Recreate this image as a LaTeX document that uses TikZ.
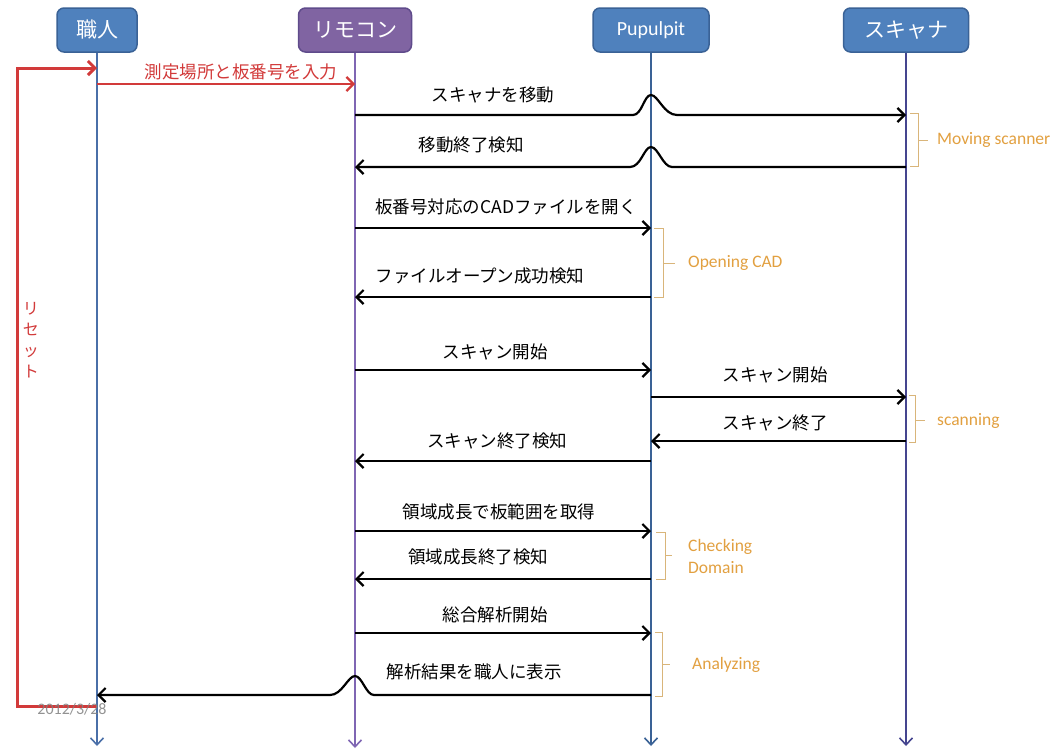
\documentclass[tikz,border=0pt]{standalone}
\usepackage{fontspec}
\newfontfamily\jp{Noto Sans CJK JP}
\newfontfamily\lat{Carlito}
\usetikzlibrary{arrows.meta}
\definecolor{boxblue}{HTML}{4F81BD}
\definecolor{boxblueline}{HTML}{3A6296}
\definecolor{boxpurple}{HTML}{8064A2}
\definecolor{boxpurpleline}{HTML}{5F4B8B}
\definecolor{lineblue}{HTML}{4A6FA8}
\definecolor{linepurple}{HTML}{7F66B3}
\definecolor{linescan}{HTML}{45458F}
\definecolor{resetred}{HTML}{D23A3A}
\definecolor{phase}{HTML}{E2A040}
\definecolor{phasebar}{HTML}{D9B57A}
\begin{document}
\begin{tikzpicture}[x=1pt,y=-1pt,
  actor/.style={rounded corners=7pt, draw=boxblueline, fill=boxblue, line width=1.5pt,
    text=white, minimum height=44pt, inner sep=2pt,
    font=\jp\fontsize{21}{24}\selectfont},
  lifeline/.style={line width=1.4pt, -{Straight Barb[length=7pt,width=13pt,line width=1.6pt]}},
  msg/.style={line width=2.2pt, black, -{Straight Barb[length=7pt,width=14pt]}},
  msglabel/.style={font=\jp\fontsize{17.5}{20}\selectfont, inner sep=1pt},
  reset/.style={line width=3pt, resetred, -{Straight Barb[length=7pt,width=14pt]}},
  bracket/.style={draw=phasebar, line width=1pt},
  phaselabel/.style={text=phase, anchor=west, align=left, inner sep=0pt,
    font=\lat\fontsize{17.5}{22}\selectfont}
]
\fill[white] (0,0) rectangle (1057,753);
\useasboundingbox (0,0) rectangle (1057,753);

% participants
\node[actor, minimum width=80pt] (shokunin) at (97,30) {職人};
\node[actor, fill=boxpurple, draw=boxpurpleline, minimum width=113pt] (remocon) at (355,30) {リモコン};
\node[actor, minimum width=116pt, font=\lat\fontsize{20}{22}\selectfont] (pupulpit) at (651,30) {Pupulpit};
\node[actor, minimum width=125pt] (scanner) at (906,30) {スキャナ};

% lifelines
\coordinate (shokuninEnd) at (97,746);
\coordinate (remoconEnd) at (355,748);
\coordinate (pupulpitEnd) at (651,746);
\coordinate (scannerEnd) at (906,746);
\draw[lifeline, draw=lineblue] (shokunin.south) -- (shokuninEnd);
\draw[lifeline, draw=linepurple, line width=2.6pt] (remocon.south) -- (remoconEnd);
\draw[lifeline, draw=boxblueline] (pupulpit.south) -- (pupulpitEnd);
\draw[lifeline, draw=linescan] (scanner.south) -- (scannerEnd);

% reset loop and input
\draw[reset] (shokunin |- 0,706) -- (17,706) -- (17,68) -- (shokunin |- 0,68);
\node[text=resetred, font=\jp\fontsize{16}{21}\selectfont, align=center, inner sep=0pt] (resetlbl) at (31,340) {リ\\セ\\ッ\\ト};
\draw[reset, line width=2.2pt] (shokunin |- 0,84) -- (remocon |- 0,84);
\node[msglabel, text=resetred] (inputlbl) at (241,72) {測定場所と板番号を入力};

% moving the scanner
\draw[msg] (remocon |- 0,115) -- (633,115) .. controls (642,115) and (644,95) .. (651,95)
  .. controls (658,95) and (664,115) .. (677,115) -- (scanner |- 0,115);
\node[msglabel] (m1) at (493,95) {スキャナを移動};
\draw[msg] (scanner |- 0,167) -- (672,167) .. controls (663,167) and (658,147) .. (651,147)
  .. controls (644,147) and (641,167) .. (630,167) -- (remocon |- 0,167);
\node[msglabel] (m2) at (471,145) {移動終了検知};
\draw[bracket] (910,113) -- (918,113) -- (918,166) -- (910,166) (918,140) -- (928,140);
\node[phaselabel] (p1) at (937,140) {Moving scanner};

% opening the CAD file
\draw[msg] (remocon |- 0,228) -- (pupulpit |- 0,228);
\node[msglabel] (m3) at (506,207) {板番号対応のCADファイルを開く};
\draw[msg] (pupulpit |- 0,297) -- (remocon |- 0,297);
\node[msglabel] (m4) at (480,276) {ファイルオープン成功検知};
\draw[bracket] (654,228) -- (663,228) -- (663,297) -- (654,297) (663,263) -- (675,263);
\node[phaselabel] (p2) at (688,263) {Opening CAD};

% scanning
\draw[msg] (remocon |- 0,370) -- (pupulpit |- 0,370);
\node[msglabel] (m5) at (495,352) {スキャン開始};
\draw[msg] (pupulpit |- 0,397) -- (scanner |- 0,397);
\node[msglabel] (m6) at (775,375) {スキャン開始};
\draw[msg] (scanner |- 0,441) -- (pupulpit |- 0,441);
\node[msglabel] (m7) at (775,423) {スキャン終了};
\draw[msg] (pupulpit |- 0,461) -- (remocon |- 0,461);
\node[msglabel] (m8) at (497,441) {スキャン終了検知};
\draw[bracket] (909,395) -- (915,395) -- (915,442) -- (909,442) (915,420) -- (925,420);
\node[phaselabel] (p3) at (937,421) {scanning};

% domain check
\draw[msg] (remocon |- 0,531) -- (pupulpit |- 0,531);
\node[msglabel] (m9) at (499,512) {領域成長で板範囲を取得};
\draw[msg] (pupulpit |- 0,579) -- (remocon |- 0,579);
\node[msglabel] (m10) at (478,557) {領域成長終了検知};
\draw[bracket] (656,532) -- (665,532) -- (665,579) -- (656,579) (665,555) -- (672,555);
\node[phaselabel] (p4) at (688,556) {Checking\\Domain};

% analysis
\draw[msg] (remocon |- 0,633) -- (pupulpit |- 0,633);
\node[msglabel] (m11) at (495,615) {総合解析開始};
\draw[msg] (pupulpit |- 0,695) -- (374,695) .. controls (366,695) and (362,676) .. (355,676)
  .. controls (348,676) and (342,695) .. (330,695) -- (shokunin |- 0,695);
\node[msglabel] (m12) at (474,672) {解析結果を職人に表示};
\draw[bracket] (655,632) -- (662,632) -- (662,696) -- (655,696) (662,664) -- (670,664);
\node[phaselabel] (p5) at (692,665) {Analyzing};

% date stamp
\node[text=gray, opacity=0.85, font=\lat\fontsize{16}{18}\selectfont, inner sep=0pt] (date) at (72,709) {2012/3/28};
\end{tikzpicture}
\end{document}
